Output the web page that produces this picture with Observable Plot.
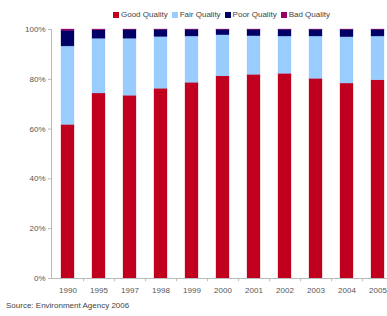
<!DOCTYPE html>
<html><head><meta charset="utf-8">
<script src="https://cdn.jsdelivr.net/npm/d3@7"></script>
<script src="https://cdn.jsdelivr.net/npm/@observablehq/plot@0.6"></script>
<style>
body{margin:0;background:#fff;font-family:"Liberation Sans",Arial,sans-serif;overflow:hidden;width:387px;height:316px}
#legend{height:20px;display:flex;align-items:flex-end;padding-left:113px;font-size:8px;color:#444;line-height:10px;box-sizing:border-box;padding-bottom:0px}
#legend span.item{display:inline-flex;align-items:center;margin-right:4px;white-space:nowrap}
#legend span.sw{display:inline-block;width:6px;height:6px;margin-right:2px}
#caption{font-size:8px;color:#444;padding-left:6px;line-height:12px}
</style></head><body>
<div id="legend"></div>
<div id="chart"></div>
<div id="caption">Source: Environment Agency 2006</div>
<script>
const years = ["1990","1995","1997","1998","1999","2000","2001","2002","2003","2004","2005"];
const series = ["Good Quality","Fair Quality","Poor Quality","Bad Quality"];
const colors = ["#C0001E","#99CCFF","#000066","#990066"];
const good = [61.7,74.3,73.4,76.2,78.6,81.2,81.8,82.2,80.2,78.3,79.6];
const fair = [31.5,22.0,22.9,20.8,18.6,16.5,15.5,15.0,17.0,18.6,17.6];
const poor = [6.3,3.4,3.6,2.9,2.7,2.2,2.6,2.7,2.7,3.0,2.7];
const bad  = [0.5,0.3,0.1,0.1,0.1,0.1,0.1,0.1,0.1,0.1,0.1];
const yTicks = [0,20,40,60,80,100];

const valuesBySeries = [good, fair, poor, bad];
const data = [];
series.forEach((s, si) => years.forEach((y, i) => data.push({year: y, series: s, value: valuesBySeries[si][i]})));

const leg = document.getElementById("legend");
series.forEach((s, i) => {
  const it = document.createElement("span"); it.className = "item";
  const sw = document.createElement("span"); sw.className = "sw"; sw.style.background = colors[i];
  it.appendChild(sw); it.appendChild(document.createTextNode(s));
  leg.appendChild(it);
});

const step = (394 - 51) / years.length;
const chart = Plot.plot({
  width: 387, height: 280,
  marginTop: 9, marginBottom: 22, marginLeft: 51, marginRight: 0,
  style: {fontFamily: "Liberation Sans, Arial, sans-serif", fontSize: "8px", color: "#555", background: "#fff", overflow: "hidden"},
  x: {domain: years, range: [51, 394], paddingInner: 0.58, paddingOuter: 0.29, label: null},
  y: {domain: [0, 100], label: null},
  color: {domain: series, range: colors},
  marks: [
    Plot.barY(data, Plot.stackY({order: series}, {x: "year", y: "value", fill: "series", stroke: "series", strokeWidth: 0.5, strokeOpacity: 0.6})),
    Plot.ruleY([0], {stroke: "#bbb"}),
    Plot.frame({anchor: "left", stroke: "#bbb"}),
    Plot.ruleX(years, {x: d => d, y1: 0, y2: -1.3, dx: step / 2, stroke: "#bbb"}),
    Plot.axisY({ticks: yTicks, tickFormat: d => d + "%", tickSize: 3, tickPadding: 3, stroke: "#bbb", label: null}),
    Plot.axisX({tickSize: 0, tickPadding: 9, label: null})
  ]
});
document.getElementById("chart").appendChild(chart);
</script>
</body></html>
